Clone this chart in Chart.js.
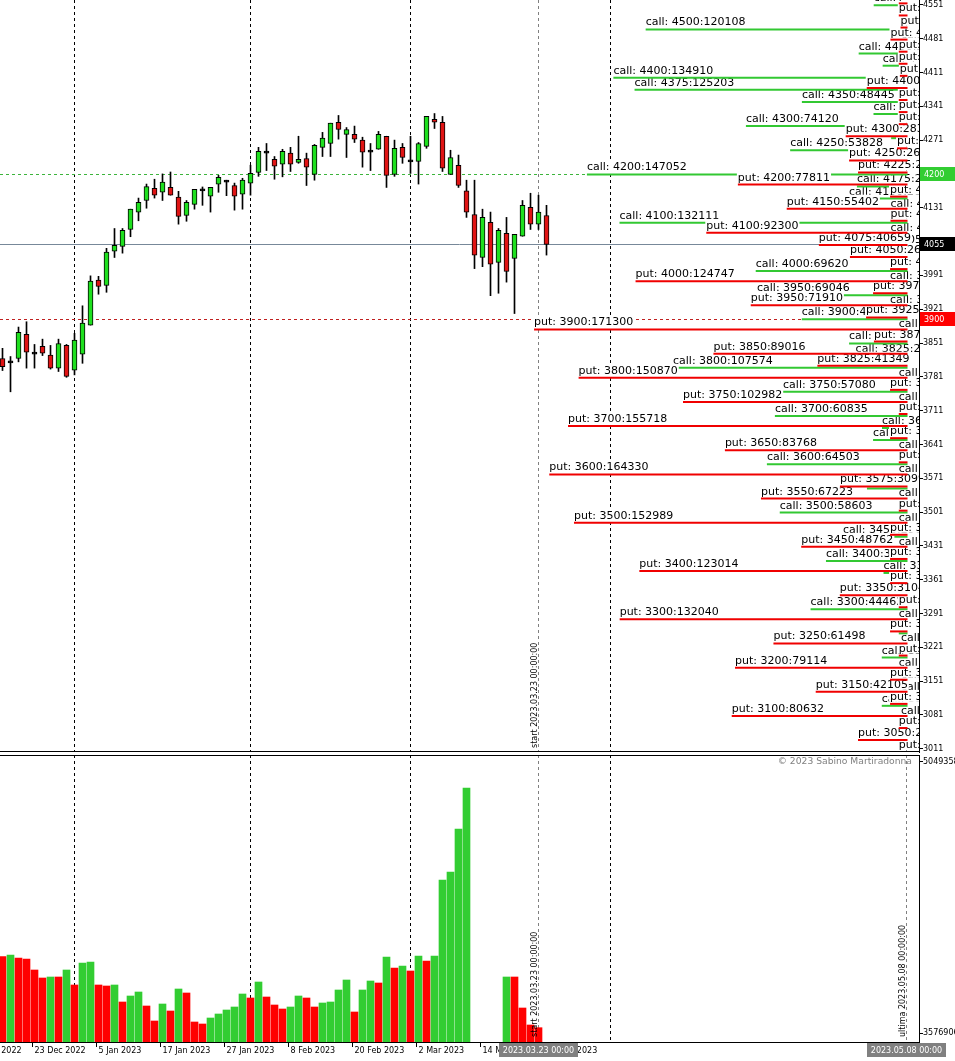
<!DOCTYPE html>
<html>
<head>
<meta charset="utf-8">
<title>Open interest call / put</title>
<script src="https://cdn.jsdelivr.net/npm/chart.js@4.4.1/dist/chart.umd.min.js"></script>
<style>
  html, body { margin: 0; padding: 0; background: #fff; overflow: hidden; }
  canvas { position: absolute; left: 0; }
  #priceChart { top: 0; }
  #volChart { top: 753px; }
</style>
</head>
<body>
<canvas id="priceChart" width="955" height="753"></canvas>
<canvas id="volChart" width="955" height="308"></canvas>
<script>
// --- daily candles, 19 Dec 2022 .. 24 Mar 2023 (bar index 0..68)
const OPEN  = [3819,3810,3819,3869,3828,3844,3826,3799,3846,3795,3828,3888,3981,3970,4041,4051,4086,4122,4146,4171,4163,4173,4153,4115,4138,4166,4155,4180,4184,4177,4159,4182,4204,4244,4231,4221,4244,4225,4233,4200,4256,4264,4308,4283,4283,4271,4246,4252,4279,4200,4256,4226,4227,4258,4314,4308,4200,4219,4166,4117,4028,4101,4018,4078,4026,4072,4132,4097,4115];
const HIGH  = [3840,3823,3884,3895,3848,3859,3846,3859,3848,3871,3928,3990,3989,4047,4088,4088,4128,4151,4180,4190,4201,4205,4165,4146,4169,4174,4173,4198,4188,4182,4192,4219,4256,4264,4237,4252,4256,4279,4244,4262,4287,4306,4322,4297,4300,4277,4264,4289,4279,4271,4264,4279,4266,4320,4326,4320,4250,4240,4188,4188,4128,4122,4088,4111,4076,4146,4161,4157,4136];
const LOW   = [3794,3750,3812,3799,3799,3825,3797,3792,3780,3785,3809,3888,3952,3956,4028,4037,4071,4104,4130,4151,4146,4157,4097,4103,4128,4136,4122,4163,4156,4126,4128,4157,4196,4208,4190,4195,4206,4223,4177,4188,4237,4237,4273,4235,4266,4215,4208,4252,4173,4196,4223,4202,4180,4254,4295,4206,4200,4173,4111,4005,4009,3949,3954,3977,3912,4072,4086,4086,4033];
const CLOSE = [3802,3810,3873,3832,3828,3830,3799,3850,3782,3857,3892,3979,3968,4039,4053,4084,4128,4142,4175,4157,4184,4157,4113,4142,4169,4166,4173,4194,4184,4155,4188,4202,4248,4244,4217,4248,4221,4231,4215,4260,4275,4306,4293,4293,4273,4246,4246,4283,4198,4254,4235,4226,4264,4320,4308,4213,4235,4177,4122,4033,4111,4014,4084,3999,4076,4136,4097,4122,4055];

// --- lower window histogram (null = no bar)
const VOLUME = [16786267,17080578,16561206,16388082,14483718,13098726,13271850,13271850,14483718,11886858,
                15695586,15868710,11886858,11713734,11886858,8943750,9982494,10674990,8251254,5654394,
                8597502,7385634,11194362,10501866,5481270,5135022,6173766,6866262,7558758,8078130,
                10328742,9636246,12406230,9809370,8424378,7731882,8078130,9982494,9636246,8078130,
                8770626,8943750,11021238,12752478,7212510,11021238,12579354,12233106,16734330,14829966,
                15176214,14310594,16907454,16041834,16907454,30064878,31449870,38894202,45992286,null,
                null,null,null,13271850,13271850,7905006,4961898,4494463,null];
const VOL_UP = [0,1,0,0,0,0,1,0,1,0, 1,1,0,0,1,0,1,1,0,0, 1,0,1,0,0,0,1,1,1,1,
                1,0,1,0,0,0,1,1,0,0, 1,1,1,1,0,1,1,0,1,0, 1,0,1,0,1,1,1,1,1,null,
                null,null,null,1,0,0,0,0,null];

// --- option open interest per strike
const STRIKES = [3025,3050,3075,3100,3125,3150,3175,3200,3225,3250,3275,3300,3325,3350,3375,3400,
                 3425,3450,3475,3500,3525,3550,3575,3600,3625,3650,3675,3700,3725,3750,3775,3800,
                 3825,3850,3875,3900,3925,3950,3975,4000,4025,4050,4075,4100,4125,4150,4175,4200,
                 4225,4250,4275,4300,4325,4350,4375,4400,4425,4450,4475,4500,4525,4550,4575];
const CALL_OI = [3000,3000,3000,11800,3000,3000,4000,11800,3000,4000,4000,44462,3000,6000,11000,37400,
                 4000,29600,4000,58603,4000,18600,4000,64503,4000,15800,11700,60835,4000,57080,4000,107574,
                 23800,26800,4000,48500,8000,69046,8000,69620,5000,15000,7800,132111,7800,26800,23200,147052,
                 12000,53828,7500,74120,15600,48445,125203,134910,11400,22400,3000,120108,2500,15500,9000];
const PUT_OI  = [4000,22700,4000,80632,8000,42105,8000,79114,4000,61498,8000,132040,4000,31045,8000,123014,
                 8000,48762,8000,152989,4000,67223,30995,164330,4000,83768,8000,155718,4000,102982,8000,150870,
                 41349,89016,15400,171300,19000,71910,15800,124747,8000,26400,40659,92300,7800,55402,8000,77811,
                 22700,26800,4800,28350,4000,4000,4000,18700,3500,4000,4000,7800,3200,4000,4000];

// --- levels, ticks, time markers
const LEVEL_CALL = 4200, LEVEL_LAST = 4055, LEVEL_PUT = 3900;
const PRICE_TICKS = [4551,4481,4411,4341,4271,4131,3991,3921,3851,3781,3711,3641,3571,3501,3431,3361,3291,3221,3151,3081,3011];
const VOL_TICKS = [3576906, 50493584];
const DATE_TICKS  = [-4, 4, 12, 20, 28, 36, 44, 52, 60, 68];
const DATE_LABELS = ['13 Dec 2022','23 Dec 2022','5 Jan 2023','17 Jan 2023','27 Jan 2023','8 Feb 2023','20 Feb 2023','2 Mar 2023','14 Mar 2023','24 Mar 2023'];
const MONTH_STARTS = [9, 31, 51, 76];
const START_INDEX = 67, LAST_INDEX = 113;
const START_TEXT = 'start 2023.03.23 00:00:00', START_BOX = '2023.03.23 00:00';
const LAST_TEXT = 'ultima 2023.05.08 00:00:00', LAST_BOX = '2023.05.08 00:00';
const COPYRIGHT = '\u00a9 2023 Sabino Martiradonna';

// axis ranges
const INDEX_MIN = -0.3125, INDEX_MAX = 114.5625;
const PRICE_MIN = 3004.4, PRICE_MAX = 4561;
const OI_MIN = -5275, OI_MAX = 416284;
const VOL_MIN = 2018790, VOL_MAX = 51705452;
const PUT_SHIFT = 21;

// styles
const UP = '#1fe01f', DOWN = '#e01414';
const CALL_COLOR = '#32c832', PUT_COLOR = '#f00000';
const VOL_GREEN = '#32cd32', VOL_RED = '#ff0000';
const AXIS_FONT = '8px "DejaVu Sans"';
const OI_FONT = '11px "DejaVu Sans"';
const FONT_FAMILY = '"DejaVu Sans", sans-serif';

Chart.defaults.font.family = FONT_FAMILY;
Chart.defaults.font.size = 8;
Chart.defaults.color = '#000';

function vline(ctx, px, y0, y1) {
  const x = Math.floor(px) + 0.5;
  ctx.beginPath(); ctx.moveTo(x, y0); ctx.lineTo(x, y1); ctx.stroke();
}
function hline(ctx, py, x0, x1) {
  const y = Math.round(py) + 0.5;
  ctx.beginPath(); ctx.moveTo(x0, y); ctx.lineTo(x1, y); ctx.stroke();
}
function clipArea(ctx, a) {
  ctx.beginPath(); ctx.rect(a.left, a.top, a.right - a.left, a.bottom - a.top); ctx.clip();
}
function timeMarkers(chart) {
  const { ctx, chartArea: a, scales: { x } } = chart;
  ctx.save();
  clipArea(ctx, a);
  ctx.lineWidth = 1;
  ctx.setLineDash([3, 3]);
  ctx.strokeStyle = '#000';
  MONTH_STARTS.forEach(k => vline(ctx, x.getPixelForValue(k), a.top, a.bottom));
  ctx.strokeStyle = '#808080';
  vline(ctx, x.getPixelForValue(START_INDEX), a.top, a.bottom);
  vline(ctx, x.getPixelForValue(LAST_INDEX), a.top, a.bottom);
  ctx.restore();
}
function upright(ctx, text, px, py) {
  ctx.save();
  ctx.translate(Math.floor(px) - 1.5, py);
  ctx.rotate(-Math.PI / 2);
  ctx.font = AXIS_FONT;
  ctx.fillStyle = '#000';
  ctx.textAlign = 'left';
  ctx.textBaseline = 'alphabetic';
  ctx.fillText(text, 0, 0);
  ctx.restore();
}
function rightAxis(min, max, tickList) {
  return {
    type: 'linear', position: 'right', min, max, bounds: 'data',
    afterBuildTicks: s => { s.ticks = tickList.map(v => ({ value: v })); },
    afterFit: s => { s.width = 36; s.paddingTop = 0; s.paddingBottom = 0; },
    ticks: { autoSkip: false, padding: 0, font: { size: 8 }, color: '#000', callback: v => String(v) },
    grid: { drawOnChartArea: false, drawTicks: true, tickLength: 4, color: '#000' },
    border: { display: true, color: '#000', width: 1 }
  };
}

// ---------- price window
const datasets = [];
datasets.push({
  type: 'bar', xAxisID: 'x', yAxisID: 'y',
  data: HIGH.map((h, i) => ({ x: i, y: [LOW[i], h] })),
  backgroundColor: '#000', borderWidth: 0, barThickness: 1, grouped: false
});
datasets.push({
  type: 'bar', xAxisID: 'x', yAxisID: 'y',
  data: OPEN.map((o, i) => ({ x: i, y: [o, CLOSE[i]] })),
  backgroundColor: OPEN.map((o, i) => CLOSE[i] > o ? UP : CLOSE[i] < o ? DOWN : '#000'),
  borderColor: '#000', borderWidth: 1, borderSkipped: false,
  barThickness: 5, minBarLength: 2, grouped: false
});
STRIKES.forEach((s, i) => {
  [['call', CALL_OI[i], s, CALL_COLOR], ['put', PUT_OI[i], s - PUT_SHIFT, PUT_COLOR]].forEach(([kind, oi, lvl, col]) => {
    datasets.push({
      type: 'line', xAxisID: 'xo', yAxisID: 'y',
      data: [{ x: oi, y: lvl }, { x: 0, y: lvl }],
      borderColor: col, borderWidth: 2, pointRadius: 0, tension: 0,
      oiText: `${kind}: ${s}:${oi}`, oiValue: oi, oiLevel: lvl
    });
  });
});
// first pushed is painted first
datasets.forEach((d, i) => { d.order = datasets.length - i; });

const pricePlugin = {
  id: 'priceDeco',
  beforeDatasetsDraw(chart) {
    const { ctx, chartArea: a, scales: { y } } = chart;
    timeMarkers(chart);
    ctx.save();
    clipArea(ctx, a);
    ctx.lineWidth = 1;
    ctx.setLineDash([3, 3]);
    ctx.strokeStyle = '#3cb43c';
    hline(ctx, y.getPixelForValue(LEVEL_CALL), a.left, a.right);
    ctx.strokeStyle = '#c02020';
    hline(ctx, y.getPixelForValue(LEVEL_PUT), a.left, a.right);
    ctx.setLineDash([]);
    ctx.strokeStyle = '#778899';
    hline(ctx, y.getPixelForValue(LEVEL_LAST), a.left, a.right);
    ctx.restore();
  },
  afterDatasetDraw(chart, args) {
    const ds = chart.data.datasets[args.index];
    if (!ds.oiText) return;
    const { ctx, chartArea: a, scales } = chart;
    const px = scales.xo.getPixelForValue(ds.oiValue);
    const py = scales.y.getPixelForValue(ds.oiLevel);
    ctx.save();
    clipArea(ctx, a);
    ctx.font = OI_FONT;
    const w = ctx.measureText(ds.oiText).width;
    ctx.fillStyle = '#fff';
    ctx.fillRect(px - 1, py - 14, w + 2, 12);
    ctx.fillStyle = '#000';
    ctx.textAlign = 'left';
    ctx.textBaseline = 'alphabetic';
    ctx.fillText(ds.oiText, px, py - 4);
    ctx.restore();
  },
  afterDraw(chart) {
    const { ctx, chartArea: a, scales: { x, y } } = chart;
    ctx.save();
    ctx.strokeStyle = '#000';
    ctx.lineWidth = 1;
    hline(ctx, a.bottom - 1, 0, a.right + 1);
    [[LEVEL_CALL, '#32cd32'], [LEVEL_LAST, '#000'], [LEVEL_PUT, '#ff0000']].forEach(([v, bg]) => {
      const py = Math.round(y.getPixelForValue(v));
      ctx.fillStyle = bg;
      ctx.fillRect(a.right + 1, py - 7, 40, 14);
      ctx.fillStyle = '#fff';
      ctx.font = AXIS_FONT;
      ctx.textBaseline = 'middle';
      ctx.fillText(String(v), a.right + 5, py + 0.5);
    });
    ctx.restore();
    upright(ctx, START_TEXT, x.getPixelForValue(START_INDEX), a.bottom - 4);
  }
};

new Chart(document.getElementById('priceChart'), {
  type: 'bar',
  data: { datasets },
  options: {
    responsive: false, animation: false, events: [],
    layout: { padding: { left: 0, right: 0, top: 0, bottom: 1 } },
    plugins: { legend: { display: false }, tooltip: { enabled: false } },
    scales: {
      x:  { type: 'linear', display: false, min: INDEX_MIN, max: INDEX_MAX, offset: false },
      xo: { type: 'linear', display: false, min: OI_MIN, max: OI_MAX, reverse: true, offset: false },
      y: rightAxis(PRICE_MIN, PRICE_MAX, PRICE_TICKS)
    }
  },
  plugins: [pricePlugin]
});

// ---------- lower window
const volPlugin = {
  id: 'volDeco',
  beforeDatasetsDraw(chart) { timeMarkers(chart); },
  afterDraw(chart) {
    const { ctx, chartArea: a, scales: { x } } = chart;
    ctx.save();
    ctx.strokeStyle = '#000';
    ctx.lineWidth = 1;
    hline(ctx, a.top, 0, a.right + 1);
    hline(ctx, a.bottom, 0, a.right + 1);

    ctx.fillStyle = '#808080';
    ctx.font = '9.2px "DejaVu Sans"';
    ctx.textAlign = 'right';
    ctx.textBaseline = 'middle';
    ctx.fillText(COPYRIGHT, a.right - 7, a.top + 7);

    ctx.font = AXIS_FONT;
    ctx.fillStyle = '#000';
    ctx.textAlign = 'left';
    DATE_TICKS.forEach((k, i) => {
      const px = Math.floor(x.getPixelForValue(k) - 2) + 0.5;
      ctx.beginPath(); ctx.moveTo(px, a.bottom); ctx.lineTo(px, a.bottom + 5); ctx.stroke();
      ctx.fillText(DATE_LABELS[i], px + 2, a.bottom + 8.5);
    });
    [[START_INDEX, START_BOX], [LAST_INDEX, LAST_BOX]].forEach(([k, t]) => {
      const px = x.getPixelForValue(k);
      const w = ctx.measureText(t).width + 8;
      ctx.fillStyle = '#808080';
      ctx.fillRect(Math.round(px - w / 2), a.bottom + 1, Math.round(w), 14);
      ctx.fillStyle = '#fff';
      ctx.textAlign = 'center';
      ctx.fillText(t, px, a.bottom + 8.5);
    });
    ctx.restore();
    upright(ctx, START_TEXT, x.getPixelForValue(START_INDEX), a.bottom - 5);
    upright(ctx, LAST_TEXT, x.getPixelForValue(LAST_INDEX), a.bottom - 5);
  }
};

new Chart(document.getElementById('volChart'), {
  type: 'bar',
  data: {
    datasets: [{
      xAxisID: 'x', yAxisID: 'y',
      data: VOLUME.map((v, i) => ({ x: i, y: v })),
      backgroundColor: VOL_UP.map(u => u ? VOL_GREEN : VOL_RED),
      borderWidth: 0, barThickness: 7, grouped: false
    }]
  },
  options: {
    responsive: false, animation: false, events: [],
    layout: { padding: { left: 0, right: 0, top: 2, bottom: 19 } },
    plugins: { legend: { display: false }, tooltip: { enabled: false } },
    scales: {
      x: { type: 'linear', display: false, min: INDEX_MIN, max: INDEX_MAX, offset: false },
      y: rightAxis(VOL_MIN, VOL_MAX, VOL_TICKS)
    }
  },
  plugins: [volPlugin]
});
</script>
</body>
</html>
